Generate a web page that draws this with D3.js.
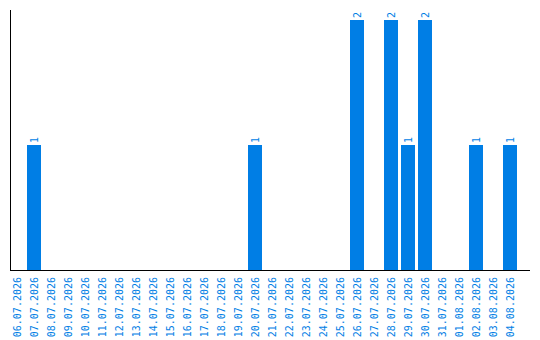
<!DOCTYPE html>
<html>
<head>
<meta charset="utf-8">
<script src="https://cdn.jsdelivr.net/npm/d3@7"></script>
<style>
  html, body { margin: 0; padding: 0; background: #fff; }
  svg { display: block; }
</style>
</head>
<body>
<svg id="chart" width="540" height="340"></svg>
<script>
// Daily counts, one bar per day
const days = [
  "06.07.2026","07.07.2026","08.07.2026","09.07.2026","10.07.2026",
  "11.07.2026","12.07.2026","13.07.2026","14.07.2026","15.07.2026",
  "16.07.2026","17.07.2026","18.07.2026","19.07.2026","20.07.2026",
  "21.07.2026","22.07.2026","23.07.2026","24.07.2026","25.07.2026",
  "26.07.2026","27.07.2026","28.07.2026","29.07.2026","30.07.2026",
  "31.07.2026","01.08.2026","02.08.2026","03.08.2026","04.08.2026"
];
const counts = [
  0,1,0,0,0,
  0,0,0,0,0,
  0,0,0,0,1,
  0,0,0,0,0,
  2,0,2,1,2,
  0,0,1,0,1
];

(function () {
  const blue = "#007ee5";
  const font = "'DejaVu Sans Mono', monospace";

  const svg = d3.select("#chart");
  const plotLeft = 10, plotRight = 520, axisEnd = 530, plotTop = 10, plotBottom = 270;

  const x = d3.scaleBand()
    .domain(days)
    .range([plotLeft, plotRight])
    .paddingInner(3 / 17)
    .paddingOuter(1.5 / 17)
    .align(0);

  const yMax = d3.max(counts) * 1.04;
  const y = d3.scaleLinear().domain([0, yMax]).range([plotBottom, plotTop]);

  const data = days.map((d, i) => ({ day: d, value: counts[i] }));
  const nonZero = data.filter(d => d.value > 0);

  // bars
  svg.append("g")
    .selectAll("rect")
    .data(nonZero)
    .join("rect")
    .attr("x", d => x(d.day))
    .attr("y", d => y(d.value))
    .attr("width", x.bandwidth())
    .attr("height", d => y(0) - y(d.value))
    .attr("fill", blue);

  // value labels above bars
  svg.append("g")
    .selectAll("text")
    .data(nonZero)
    .join("text")
    .attr("transform", d => `translate(${x(d.day) + x.bandwidth() / 2},${y(d.value) - 2}) rotate(-90)`)
    .attr("dy", "0.35em")
    .attr("text-anchor", "start")
    .attr("font-family", font)
    .attr("font-size", 10)
    .attr("fill", blue)
    .text(d => d.value);

  // x axis
  const xAxis = d3.axisBottom(x).tickSize(0).tickPadding(0);
  const gx = svg.append("g").attr("transform", `translate(0,${plotBottom})`).call(xAxis);
  gx.select(".domain").remove();
  gx.selectAll("text")
    .attr("font-family", font)
    .attr("font-size", 10)
    .attr("fill", blue)
    .attr("text-anchor", "end")
    .attr("y", 0)
    .attr("dy", "0.35em")
    .attr("transform", "translate(0,7) rotate(-90)");

  // axis lines
  svg.append("line")
    .attr("x1", plotLeft).attr("x2", axisEnd)
    .attr("y1", plotBottom + 0.5).attr("y2", plotBottom + 0.5)
    .attr("stroke", "#000");
  svg.append("line")
    .attr("x1", plotLeft + 0.5).attr("x2", plotLeft + 0.5)
    .attr("y1", y(yMax)).attr("y2", plotBottom)
    .attr("stroke", "#000");
})();
</script>
</body>
</html>
